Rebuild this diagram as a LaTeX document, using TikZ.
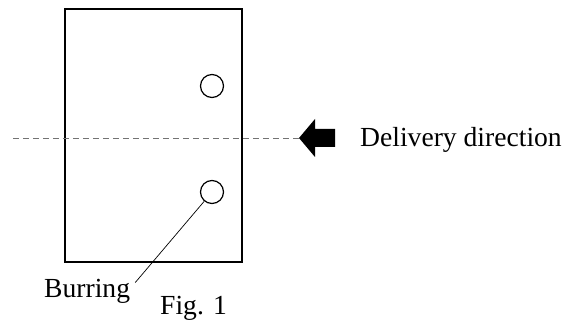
\documentclass[tikz,border=0pt]{standalone}
\usepackage{fontspec}
\setmainfont{Liberation Serif}
\usetikzlibrary{calc}

\begin{document}
\begin{tikzpicture}[x=1pt, y=-1pt,
  sheet/.style={draw, line width=1.5pt},
  hole/.style={draw, circle, line width=1.2pt, minimum size=23pt, inner sep=0pt},
  centreline/.style={draw=gray!90!black, dashed, dash pattern=on 6pt off 4pt, line width=0.9pt},
  leader/.style={draw, line width=0.7pt},
  caption/.style={inner sep=0pt, anchor=base west, font=\fontsize{27.6}{30}\selectfont}]
  \useasboundingbox (0,0) rectangle (567,320);
  % sheet with two holes
  \draw[sheet] (65,9) rectangle (242,262);
  \node[hole] (holeA) at (212,86) {};
  \node[hole] (holeB) at (212,192) {};

  % centre line and delivery arrow
  \coordinate (L) at (13,138);
  \coordinate (tip) at (299,138);
  \draw[centreline] (L) -- (tip);
  \fill (tip) -- ++(16,-19) -- ++(0,10) -- ++(20,0) -- ++(0,18)
    -- ++(-20,0) -- ++(0,10) -- cycle;
  \node[caption] (dir) at (360,147) {Delivery direction};

  % labels
  \node[caption] (burr) at (44,297) {Burring};
  \node[caption] (fig) at (160,314) {Fig. 1};
  \draw[leader] (holeB.230) -- ($(burr.north east)+(5,4)$);
\end{tikzpicture}
\end{document}
